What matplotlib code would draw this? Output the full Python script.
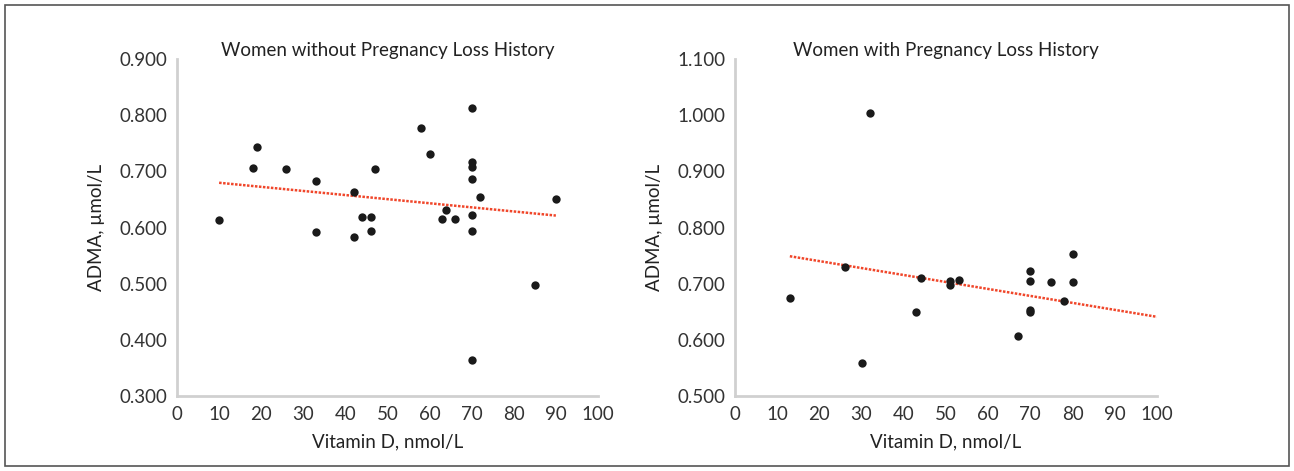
import numpy as np
import matplotlib.pyplot as plt
from matplotlib.patches import Rectangle

plt.rcParams['font.family'] = ['Lato', 'DejaVu Sans']

# women without pregnancy loss history
vit_d_a = [10, 18, 19, 26, 33, 33, 42, 42, 44, 46, 46, 47, 58, 60, 63, 64, 66,
           70, 70, 70, 70, 70, 70, 70, 72, 85, 90]
adma_a = [0.613, 0.706, 0.743, 0.704, 0.682, 0.592, 0.664, 0.584, 0.619, 0.619, 0.594, 0.705,
          0.778, 0.730, 0.615, 0.631, 0.615, 0.813, 0.717, 0.707, 0.686, 0.622, 0.594, 0.365,
          0.654, 0.498, 0.650]
trend_a = [-0.00073, 0.687]  # slope, intercept (as drawn in the original)

# women with pregnancy loss history
vit_d_b = [13, 26, 30, 32, 43, 44, 51, 51, 53, 67, 70, 70, 70, 70, 75, 78, 80, 80]
adma_b = [0.675, 0.730, 0.559, 1.004, 0.649, 0.711, 0.704, 0.698, 0.706, 0.606, 0.722, 0.704,
          0.653, 0.649, 0.703, 0.670, 0.753, 0.703]
trend_b = [-0.00124, 0.765]

x_ticks = list(range(0, 101, 10))
titles = ['Women without Pregnancy Loss History', 'Women with Pregnancy Loss History']

fig = plt.figure(figsize=(12.94, 4.71), dpi=100)
fig.patches.append(Rectangle((5 / 1294, 5 / 471), 1284 / 1294, 461 / 471, transform=fig.transFigure,
                             fill=False, edgecolor='#555555', lw=1.2))

ax1 = fig.add_axes([0.1368, 0.1592, 0.3253, 0.7155])
ax2 = fig.add_axes([0.5680, 0.1592, 0.3261, 0.7155])

setups = [
    (ax1, vit_d_a, adma_a, trend_a, (0.3, 0.9), None, titles[0]),
    (ax2, vit_d_b, adma_b, trend_b, (0.5, 1.1), 100, titles[1]),
]
for ax, xs, ys, trend, ylim, fwd, title in setups:
    ax.scatter(xs, ys, s=36, color='#1a1a1a', zorder=3, linewidths=0)
    k, b = trend
    x_end = fwd if fwd else max(xs)
    xl = np.array([min(xs), x_end])
    ax.plot(xl, k * xl + b, linestyle=(0, (1, 0.6)), color='#f0462a', lw=1.8, zorder=2)
    ax.set_xlim(0, 100)
    ax.set_ylim(*ylim)
    ax.set_xticks(x_ticks)
    yt = np.arange(ylim[0], ylim[1] + 0.001, 0.1)
    ax.set_yticks(yt)
    ax.set_yticklabels(['%.3f' % v for v in yt])
    for s in ['top', 'right']:
        ax.spines[s].set_visible(False)
    for s in ['left', 'bottom']:
        ax.spines[s].set_color('#d0d0d0')
        ax.spines[s].set_linewidth(2)
    ax.tick_params(length=0, labelsize=13.5, colors='#333333', pad=7)
    ax.set_xlabel('Vitamin D, nmol/L', fontsize=13.5, color='#222222', labelpad=8)
    ax.set_ylabel('ADMA, µmol/L', fontsize=13.5, color='#222222', labelpad=10)
    ax.set_title(title, fontsize=13.5, color='#222222', pad=-2)

fig.savefig('out.png', dpi=100)
